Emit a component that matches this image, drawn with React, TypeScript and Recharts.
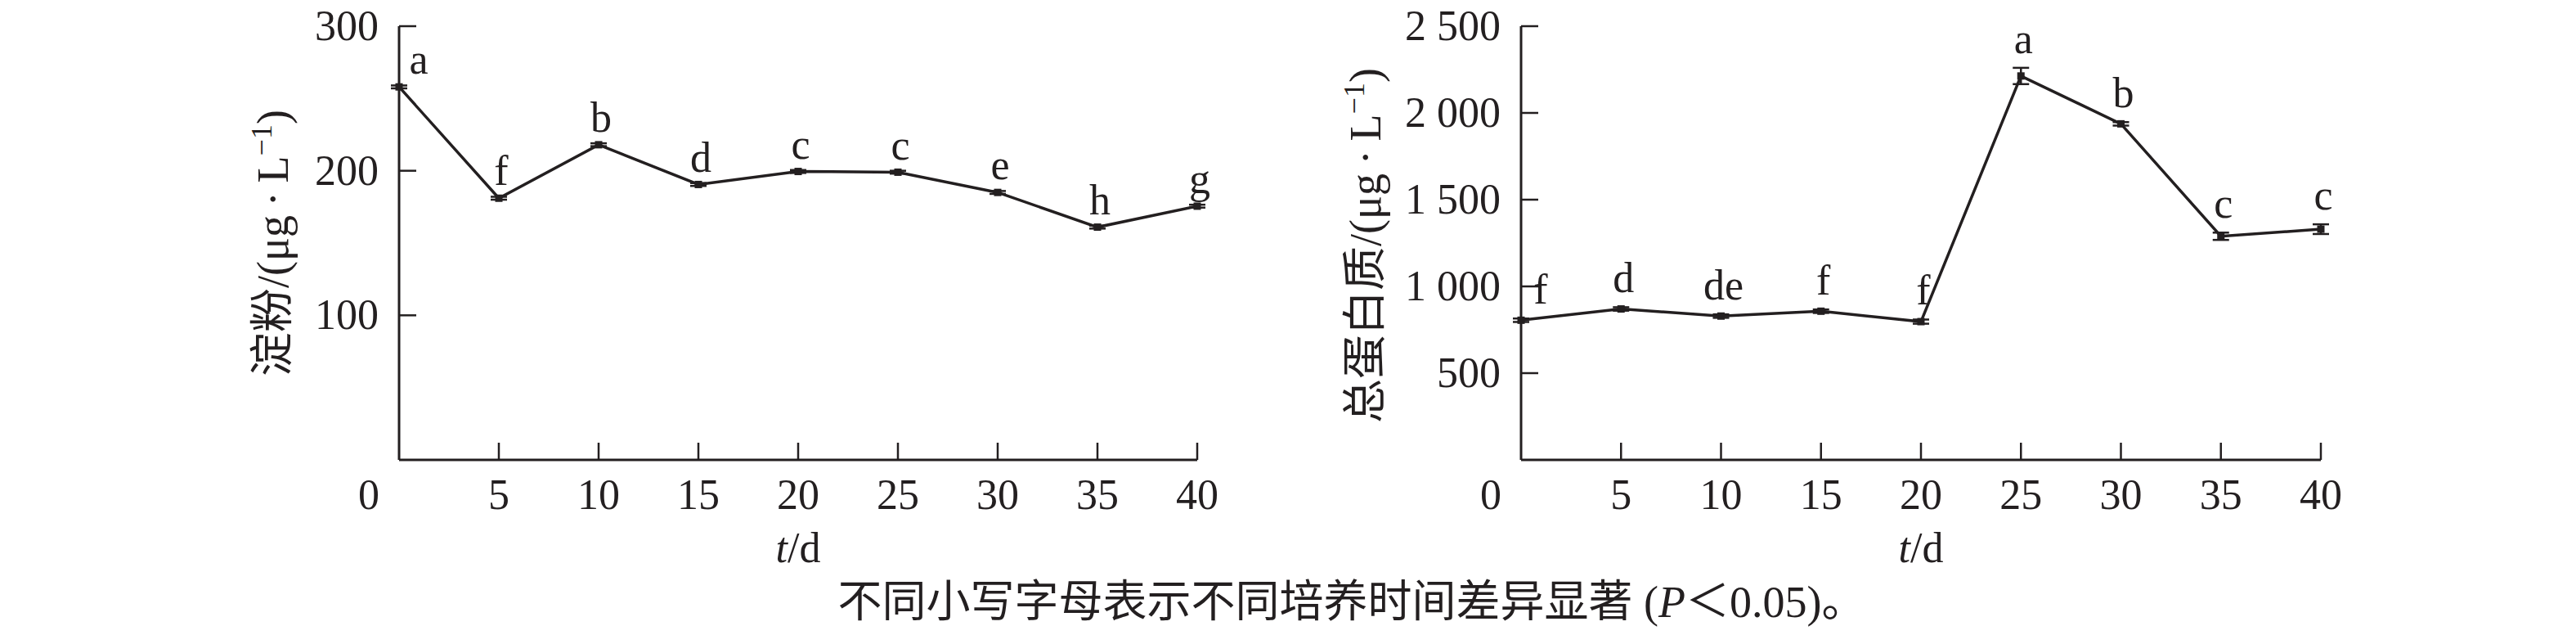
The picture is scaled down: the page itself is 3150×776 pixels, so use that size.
import React from 'react';
import { LineChart, Line, XAxis, YAxis, ErrorBar } from 'recharts';

// sampling days
const days = [0, 5, 10, 15, 20, 25, 30, 35, 40];
const dayTicks = [0, 5, 10, 15, 20, 25, 30, 35, 40];

// starch, μg/L
const starch = [258, 181, 218, 190.5, 199.5, 199, 185, 161, 175.5];
const starchErr = [1, 1, 1, 1, 1, 1, 1, 1, 1];
const starchLetters = ['a', 'f', 'b', 'd', 'c', 'c', 'e', 'h', 'g'];
const starchTicks = [100, 200, 300];

// total protein, μg/L
const protein = [805, 870, 829, 857, 797, 2213, 1937, 1289, 1330];
const proteinErr = [10, 10, 10, 10, 12, 47, 10, 21, 28];
const proteinLetters = ['f', 'd', 'de', 'f', 'f', 'a', 'b', 'c', 'c'];
const proteinTicks = [500, 1000, 1500, 2000, 2500];

const INK = '#231f20';
const FONT = "'Liberation Serif', 'Times New Roman', 'Noto Sans CJK SC', serif";
const FS = 52;
const H = 776;
const PLOT_TOP = 32;
const PLOT_BOTTOM = 562;

const fmtThousands = (n: number) =>
  n >= 1000 ? `${Math.floor(n / 1000)} ${String(n % 1000).padStart(3, '0')}` : String(n);

const XTick = (p: any) => {
  const v = p.payload.value;
  return (
    <g>
      {v !== 0 && <line x1={p.x} x2={p.x} y1={p.y} y2={p.y - 21} stroke={INK} strokeWidth={2.5} />}
      <text x={v === 0 ? p.x - 37 : p.x} y={p.y + 60} textAnchor="middle" fontFamily={FONT} fontSize={FS} fill={INK}>
        {v}
      </text>
    </g>
  );
};

const makeYTick = (fmt: (n: number) => string) => (p: any) => (
  <g>
    <line x1={p.x} x2={p.x + 21} y1={p.y} y2={p.y} stroke={INK} strokeWidth={2.5} />
    <text x={p.x - 25} y={p.y + 17} textAnchor="end" fontFamily={FONT} fontSize={FS} fill={INK}>
      {fmt(p.payload.value)}
    </text>
  </g>
);

interface PanelProps {
  left: number;
  width: number;
  axisW: number;
  rightM: number;
  values: number[];
  errs: number[];
  letters: string[];
  ticks: number[];
  max: number;
  gap: number;
  fmt: (n: number) => string;
}

const Panel: React.FC<PanelProps> = ({ left, width, axisW, rightM, values, errs, letters, ticks, max, gap, fmt }) => {
  const data = days.map((d, i) => ({ day: d, v: values[i], err: errs[i], letter: letters[i] }));
  const ppu = (PLOT_BOTTOM - PLOT_TOP) / max;

  const renderDot = (p: any) => {
    const { cx, cy, index, payload } = p;
    const lift = payload.err * ppu + gap;
    return (
      <g key={`pt-${index}`}>
        <rect x={cx - 4.5} y={cy - 4.5} width={9} height={9} fill={INK} />
        <text
          x={index === 0 ? cx + 24 : cx + 3}
          y={cy - lift}
          textAnchor="middle"
          fontFamily={FONT}
          fontSize={FS}
          fill={INK}
        >
          {payload.letter}
        </text>
      </g>
    );
  };

  return (
    <div style={{ position: 'absolute', left, top: 0 }}>
      <LineChart width={width} height={H} data={data} margin={{ top: PLOT_TOP, right: rightM, bottom: 0, left: 0 }}>
        <XAxis
          dataKey="day"
          type="number"
          domain={[0, 40]}
          ticks={dayTicks}
          interval={0}
          height={H - PLOT_BOTTOM}
          tickSize={0}
          tickMargin={0}
          tickLine={false}
          axisLine={{ stroke: INK, strokeWidth: 3 }}
          tick={(p: any) => <XTick {...p} />}
        />
        <YAxis
          type="number"
          domain={[0, max]}
          ticks={ticks}
          interval={0}
          width={axisW}
          tickSize={0}
          tickMargin={0}
          tickLine={false}
          axisLine={{ stroke: INK, strokeWidth: 3 }}
          tick={makeYTick(fmt)}
        />
        <Line
          dataKey="v"
          type="linear"
          stroke={INK}
          strokeWidth={3.5}
          dot={renderDot}
          activeDot={false}
          isAnimationActive={false}
        >
          <ErrorBar dataKey="err" width={10} stroke={INK} strokeWidth={2.5} direction="y" isAnimationActive={false} />
        </Line>
      </LineChart>
    </div>
  );
};

export default function App() {
  return (
    <div style={{ position: 'absolute', left: 0, top: 0, width: 3150, height: H, background: '#fff' }}>
      <Panel
        left={0}
        width={1500}
        axisW={488}
        rightM={36}
        values={starch}
        errs={starchErr}
        letters={starchLetters}
        ticks={starchTicks}
        max={300}
        gap={14}
        fmt={(n) => String(n)}
      />
      <Panel
        left={1500}
        width={1400}
        axisW={360}
        rightM={62}
        values={protein}
        errs={proteinErr}
        letters={proteinLetters}
        ticks={proteinTicks}
        max={2500}
        gap={18}
        fmt={fmtThousands}
      />
      <svg
        width={3150}
        height={H}
        style={{ position: 'absolute', left: 0, top: 0, pointerEvents: 'none' }}
        fontFamily={FONT}
        fill={INK}
      >
        <text transform="translate(352,297) rotate(-90)" textAnchor="middle" fontSize={54}>
          淀粉/(μg{'\u2009'}·{'\u2009'}L
          <tspan dy={-20} fontSize={36}>−1</tspan>
          <tspan dy={20}>)</tspan>
        </text>
        <text transform="translate(1688,300) rotate(-90)" textAnchor="middle" fontSize={54}>
          总蛋白质/(μg{'\u2009'}·{'\u2009'}L
          <tspan dy={-20} fontSize={36}>−1</tspan>
          <tspan dy={20}>)</tspan>
        </text>
        <text x={976} y={687} textAnchor="middle" fontSize={FS}>
          <tspan fontStyle="italic">t</tspan>/d
        </text>
        <text x={2349} y={687} textAnchor="middle" fontSize={FS}>
          <tspan fontStyle="italic">t</tspan>/d
        </text>
        <text x={1653} y={754} textAnchor="middle" fontSize={54}>
          不同小写字母表示不同培养时间差异显著 (<tspan fontStyle="italic">P</tspan>＜0.05)。
        </text>
      </svg>
    </div>
  );
}
